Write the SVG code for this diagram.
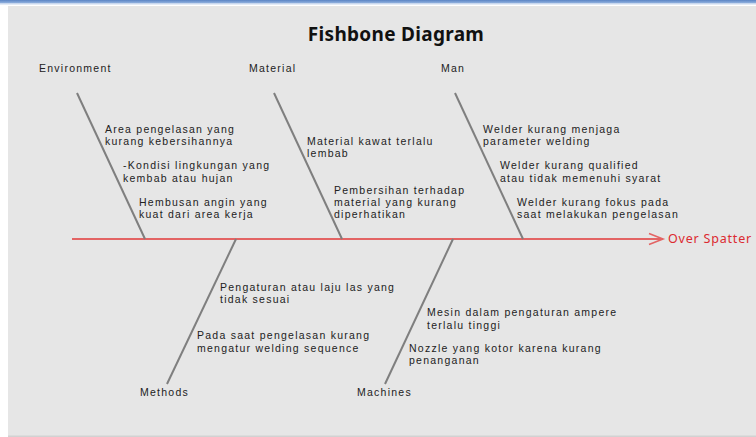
<svg xmlns="http://www.w3.org/2000/svg" width="756" height="437" viewBox="0 0 756 437">
  <defs>
    <linearGradient id="topbar" x1="0" y1="0" x2="0" y2="1">
      <stop offset="0" stop-color="#5b84c4"/>
      <stop offset="1" stop-color="#8fb0de"/>
    </linearGradient>
    <marker id="arrow" markerWidth="18" markerHeight="14" refX="15" refY="7" orient="auto" markerUnits="userSpaceOnUse">
      <path d="M1,1.5 L15,7 L1,12.5" fill="none" stroke="#e36464" stroke-width="1.6"/>
    </marker>
  </defs>
  <style>
    .t { font-family: "Liberation Sans", Arial, sans-serif; font-size: 10.5px; letter-spacing: 1.25px; fill: #222222; }
    .title { font-family: "Noto Sans", "Open Sans", "DejaVu Sans", sans-serif; font-size: 19px; letter-spacing: 0.3px; font-weight: bold; fill: #111111; }
    .effect { font-family: "Noto Sans", "Open Sans", "DejaVu Sans", sans-serif; font-size: 12.5px; letter-spacing: 0.8px; fill: #dc2a30; }
    .bone { stroke: #7f7f7f; stroke-width: 2; fill: none; }
    .spine { stroke: #e36464; stroke-width: 2; fill: none; }
  </style>

  <!-- background -->
  <rect x="0" y="0" width="756" height="437" fill="#ffffff"/>
  <rect x="0" y="0" width="756" height="3" fill="url(#topbar)"/>
  <rect x="0" y="3" width="756" height="1.5" fill="#c8d7ee"/>
  <rect x="8" y="6" width="748" height="430" fill="#e6e6e6"/>
  <rect x="8" y="435.5" width="748" height="1.5" fill="#d2d2d2"/>

  <text class="title" x="396" y="41" text-anchor="middle">Fishbone Diagram</text>

  <!-- connectors -->
  <g id="connectors">
    <line class="spine" x1="72" y1="239" x2="663" y2="239" marker-end="url(#arrow)"/>
    <line class="bone" x1="77" y1="93" x2="145" y2="239"/>
    <line class="bone" x1="274" y1="93" x2="342" y2="239"/>
    <line class="bone" x1="455" y1="93" x2="523" y2="239"/>
    <line class="bone" x1="236" y1="239" x2="167" y2="384"/>
    <line class="bone" x1="453" y1="239" x2="385" y2="384"/>
  </g>

  <g id="effect">
    <text class="effect" x="668" y="243">Over Spatter</text>
  </g>

  <g id="environment">
    <text class="t" x="39" y="72">Environment</text>
    <text class="t" x="105" y="133">Area pengelasan yang<tspan x="105" y="145">kurang kebersihannya</tspan></text>
    <text class="t" x="123" y="169">-Kondisi lingkungan yang<tspan x="123" y="182">kembab atau hujan</tspan></text>
    <text class="t" x="139" y="206">Hembusan angin yang<tspan x="139" y="218">kuat dari area kerja</tspan></text>
  </g>

  <g id="material">
    <text class="t" x="249" y="72">Material</text>
    <text class="t" x="307" y="145">Material kawat terlalu<tspan x="307" y="157">lembab</tspan></text>
    <text class="t" x="334" y="194">Pembersihan terhadap<tspan x="334" y="206">material yang kurang</tspan><tspan x="334" y="218">diperhatikan</tspan></text>
  </g>

  <g id="man">
    <text class="t" x="441" y="72">Man</text>
    <text class="t" x="483" y="133">Welder kurang menjaga<tspan x="483" y="145">parameter welding</tspan></text>
    <text class="t" x="500" y="169">Welder kurang qualified<tspan x="500" y="182">atau tidak memenuhi syarat</tspan></text>
    <text class="t" x="517" y="206">Welder kurang fokus pada<tspan x="517" y="218">saat melakukan pengelasan</tspan></text>
  </g>

  <g id="methods">
    <text class="t" x="140" y="396">Methods</text>
    <text class="t" x="220" y="291">Pengaturan atau laju las yang<tspan x="220" y="303">tidak sesuai</tspan></text>
    <text class="t" x="197" y="339">Pada saat pengelasan kurang<tspan x="197" y="352">mengatur welding sequence</tspan></text>
  </g>

  <g id="machines">
    <text class="t" x="357" y="396">Machines</text>
    <text class="t" x="427" y="316">Mesin dalam pengaturan ampere<tspan x="427" y="329">terlalu tinggi</tspan></text>
    <text class="t" x="409" y="352">Nozzle yang kotor karena kurang<tspan x="409" y="364">penanganan</tspan></text>
  </g>
</svg>
